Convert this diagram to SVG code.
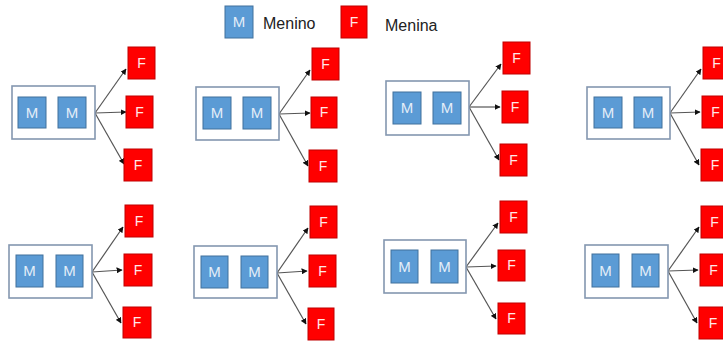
<svg xmlns="http://www.w3.org/2000/svg" width="723" height="342" viewBox="0 0 723 342">
<style>
.c{fill:#fff;stroke:#8497B0;stroke-width:1.6}
.m{fill:#5B9BD5;stroke:#41719C;stroke-width:1}
.f{fill:#FF0000;stroke:#C00000;stroke-width:1}
.mt{font-family:"Liberation Sans",Arial,sans-serif;font-size:15px;fill:#E4EEF8;text-anchor:middle}
.ft{font-family:"Liberation Sans",Arial,sans-serif;font-size:14px;fill:#FFE8E8;text-anchor:middle}
.lt{font-family:"Liberation Sans",Arial,sans-serif;font-size:16px;fill:#222}
.a{stroke:#555;stroke-width:1.2;fill:none;marker-end:url(#ah)}
</style>
<defs>
<marker id="ah" viewBox="0 0 10 10" refX="9" refY="5" markerWidth="6" markerHeight="6" markerUnits="userSpaceOnUse" orient="auto">
<path d="M0,0 L10,5 L0,10 z" fill="#111"/>
</marker>
</defs>
<rect width="723" height="342" fill="#fff"/>

<g id="legend">
<g id="legend-m"><rect class="m" x="225" y="6" width="28" height="32"/><text class="mt" x="239" y="27">M</text></g>
<text class="lt" x="263" y="29">Menino</text>
<g id="legend-f"><rect class="f" x="341" y="6" width="26" height="32"/><text class="ft" x="354" y="27">F</text></g>
<text class="lt" x="385" y="31">Menina</text>
</g>

<g id="connectors">
<path class="a" d="M95,113 L126,69"/><path class="a" d="M95,113 L126,112"/><path class="a" d="M95,113 L124,164"/>
<path class="a" d="M279,114 L310,70"/><path class="a" d="M279,114 L310,113"/><path class="a" d="M279,114 L308,166"/>
<path class="a" d="M469,107 L501,64"/><path class="a" d="M469,107 L500,107"/><path class="a" d="M469,107 L499,160"/>
<path class="a" d="M670,113 L701,69"/><path class="a" d="M670,113 L700,112"/><path class="a" d="M670,113 L699,165"/>
<path class="a" d="M92,272 L123,227"/><path class="a" d="M92,272 L122,270"/><path class="a" d="M92,272 L121,323"/>
<path class="a" d="M277,273 L308,228"/><path class="a" d="M277,273 L307,271"/><path class="a" d="M277,273 L306,324"/>
<path class="a" d="M466,267 L498,223"/><path class="a" d="M466,267 L496,266"/><path class="a" d="M466,267 L496,319"/>
<path class="a" d="M668,271 L699,227"/><path class="a" d="M668,271 L698,270"/><path class="a" d="M668,271 L697,323"/>
</g>

<!-- Group 1 -->
<g id="pair1"><rect class="c" x="12" y="86" width="83" height="53"/>
<g id="m1a"><rect class="m" x="18" y="97" width="28" height="31"/><text class="mt" x="32" y="118">M</text></g>
<g id="m1b"><rect class="m" x="58" y="97" width="28" height="31"/><text class="mt" x="72" y="118">M</text></g></g>
<g id="f1a"><rect class="f" x="128" y="47" width="27" height="32"/><text class="ft" x="141.5" y="68">F</text></g>
<g id="f1b"><rect class="f" x="126" y="96" width="27" height="32"/><text class="ft" x="139.5" y="117">F</text></g>
<g id="f1c"><rect class="f" x="124" y="149" width="28" height="32"/><text class="ft" x="138" y="170">F</text></g>

<!-- Group 2 -->
<g id="pair2"><rect class="c" x="196" y="87" width="83" height="53"/>
<g id="m2a"><rect class="m" x="203" y="97" width="28" height="32"/><text class="mt" x="217" y="118">M</text></g>
<g id="m2b"><rect class="m" x="243" y="97" width="28" height="32"/><text class="mt" x="257" y="118">M</text></g></g>
<g id="f2a"><rect class="f" x="312" y="48" width="27" height="32"/><text class="ft" x="325.5" y="69">F</text></g>
<g id="f2b"><rect class="f" x="311" y="97" width="26" height="31"/><text class="ft" x="324" y="117">F</text></g>
<g id="f2c"><rect class="f" x="309" y="150" width="28" height="32"/><text class="ft" x="323" y="171">F</text></g>

<!-- Group 3 -->
<g id="pair3"><rect class="c" x="386" y="81" width="83" height="54"/>
<g id="m3a"><rect class="m" x="393" y="92" width="28" height="32"/><text class="mt" x="407" y="113">M</text></g>
<g id="m3b"><rect class="m" x="433" y="92" width="28" height="32"/><text class="mt" x="447" y="113">M</text></g></g>
<g id="f3a"><rect class="f" x="503" y="42" width="27" height="32"/><text class="ft" x="516.5" y="63">F</text></g>
<g id="f3b"><rect class="f" x="502" y="91" width="26" height="32"/><text class="ft" x="515" y="112">F</text></g>
<g id="f3c"><rect class="f" x="500" y="144" width="27" height="32"/><text class="ft" x="513.5" y="165">F</text></g>

<!-- Group 4 -->
<g id="pair4"><rect class="c" x="587" y="87" width="83" height="52"/>
<g id="m4a"><rect class="m" x="594" y="97" width="28" height="31"/><text class="mt" x="608" y="118">M</text></g>
<g id="m4b"><rect class="m" x="634" y="97" width="28" height="31"/><text class="mt" x="648" y="118">M</text></g></g>
<g id="f4a"><rect class="f" x="703" y="47" width="27" height="32"/><text class="ft" x="716.5" y="68">F</text></g>
<g id="f4b"><rect class="f" x="702" y="96" width="27" height="32"/><text class="ft" x="715.5" y="117">F</text></g>
<g id="f4c"><rect class="f" x="701" y="149" width="28" height="32"/><text class="ft" x="715" y="170">F</text></g>

<!-- Group 5 -->
<g id="pair5"><rect class="c" x="9" y="245" width="83" height="53"/>
<g id="m5a"><rect class="m" x="16" y="255" width="27" height="32"/><text class="mt" x="29.5" y="276">M</text></g>
<g id="m5b"><rect class="m" x="56" y="255" width="27" height="32"/><text class="mt" x="69.5" y="276">M</text></g></g>
<g id="f5a"><rect class="f" x="125" y="205" width="28" height="32"/><text class="ft" x="139" y="226">F</text></g>
<g id="f5b"><rect class="f" x="124" y="254" width="28" height="32"/><text class="ft" x="138" y="275">F</text></g>
<g id="f5c"><rect class="f" x="123" y="307" width="28" height="31"/><text class="ft" x="137" y="327">F</text></g>

<!-- Group 6 -->
<g id="pair6"><rect class="c" x="194" y="246" width="83" height="52"/>
<g id="m6a"><rect class="m" x="201" y="256" width="27" height="32"/><text class="mt" x="214.5" y="277">M</text></g>
<g id="m6b"><rect class="m" x="241" y="256" width="27" height="32"/><text class="mt" x="254.5" y="277">M</text></g></g>
<g id="f6a"><rect class="f" x="310" y="206" width="27" height="32"/><text class="ft" x="323.5" y="227">F</text></g>
<g id="f6b"><rect class="f" x="309" y="255" width="27" height="32"/><text class="ft" x="322.5" y="276">F</text></g>
<g id="f6c"><rect class="f" x="308" y="308" width="26" height="32"/><text class="ft" x="321" y="329">F</text></g>

<!-- Group 7 -->
<g id="pair7"><rect class="c" x="384" y="240" width="82" height="53"/>
<g id="m7a"><rect class="m" x="391" y="250" width="27" height="33"/><text class="mt" x="404.5" y="272">M</text></g>
<g id="m7b"><rect class="m" x="431" y="250" width="27" height="33"/><text class="mt" x="444.5" y="272">M</text></g></g>
<g id="f7a"><rect class="f" x="500" y="201" width="27" height="32"/><text class="ft" x="513.5" y="222">F</text></g>
<g id="f7b"><rect class="f" x="498" y="250" width="27" height="31"/><text class="ft" x="511.5" y="270">F</text></g>
<g id="f7c"><rect class="f" x="498" y="303" width="27" height="31"/><text class="ft" x="511.5" y="323">F</text></g>

<!-- Group 8 -->
<g id="pair8"><rect class="c" x="585" y="245" width="83" height="53"/>
<g id="m8a"><rect class="m" x="592" y="254" width="27" height="33"/><text class="mt" x="605.5" y="276">M</text></g>
<g id="m8b"><rect class="m" x="632" y="254" width="27" height="33"/><text class="mt" x="645.5" y="276">M</text></g></g>
<g id="f8a"><rect class="f" x="701" y="206" width="27" height="32"/><text class="ft" x="714.5" y="227">F</text></g>
<g id="f8b"><rect class="f" x="700" y="254" width="27" height="32"/><text class="ft" x="713.5" y="275">F</text></g>
<g id="f8c"><rect class="f" x="699" y="307" width="28" height="32"/><text class="ft" x="713" y="328">F</text></g>
</svg>
